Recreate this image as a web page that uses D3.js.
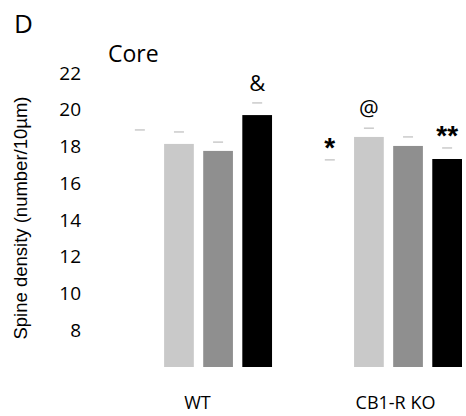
<!DOCTYPE html>
<html>
<head>
<meta charset="utf-8">
<script src="https://cdn.jsdelivr.net/npm/d3@7"></script>
<style>
  body { margin: 0; background: #fff; }
  text { font-family: "Open Sans", sans-serif; fill: #000; }
</style>
</head>
<body>
<svg id="chart" width="466" height="416"></svg>
<script>
var groups = ['WT', 'CB1-R KO'];
var series = ['a', 'b', 'c', 'd'];
var colors = ['#ffffff', '#c9c9c9', '#8f8f8f', '#000000'];
var wtValues = [18.4, 18.14, 17.76, 19.71];
var wtErrors = [0.5, 0.65, 0.48, 0.66];
var koValues = [16.8, 18.52, 18.03, 17.32];
var koErrors = [0.47, 0.48, 0.49, 0.6];
var wtMarks = ['', '', '', '&'];
var koMarks = ['*', '@', '', '**'];
var yTicks = [8, 10, 12, 14, 16, 18, 20, 22];

var data = [];
[[wtValues, wtErrors, wtMarks], [koValues, koErrors, koMarks]].forEach(function(g, gi) {
    series.forEach(function(s, si) {
        data.push({group: groups[gi], key: s, value: g[0][si], err: g[1][si], mark: g[2][si], color: colors[si]});
    });
});

var svg = d3.select("#chart");

// scales
var x0 = d3.scaleBand().domain(groups).range([125, 462]).paddingInner(0.226);
var x1 = d3.scaleBand().domain(series).range([0, x0.bandwidth()]).paddingInner(0.24);
var y = d3.scaleLinear().domain([6, 22]).range([367, 73]);

// y tick labels only, no axis line
var yAxis = d3.axisLeft(y).tickValues(yTicks).tickSize(0).tickPadding(0);
var ya = svg.append("g")
    .attr("transform", "translate(81,0)")
    .call(yAxis);
ya.select(".domain").remove();
ya.selectAll("text")
    .style("font-family", "'Open Sans', sans-serif")
    .style("font-size", "19px")
    .attr("fill", "#000");

// bars
svg.selectAll("rect.bar")
    .data(data)
    .enter()
    .append("rect")
        .attr("class", "bar")
        .attr("x", function(d) { return x0(d.group) + x1(d.key) })
        .attr("y", function(d) { return y(d.value) })
        .attr("width", x1.bandwidth())
        .attr("height", function(d) { return y(6) - y(d.value) })
        .attr("fill", function(d) { return d.color });

// error caps
svg.selectAll("line.cap")
    .data(data)
    .enter()
    .append("line")
        .attr("class", "cap")
        .attr("x1", function(d) { return x0(d.group) + x1(d.key) + x1.bandwidth() / 2 - 5 })
        .attr("x2", function(d) { return x0(d.group) + x1(d.key) + x1.bandwidth() / 2 + 5 })
        .attr("y1", function(d) { return y(d.value + d.err) })
        .attr("y2", function(d) { return y(d.value + d.err) })
        .attr("stroke", "#b0b0b0")
        .attr("stroke-width", 1);

// significance marks
function isStar(d) { return d.mark.indexOf('*') >= 0 }
svg.selectAll("text.mark")
    .data(data.filter(function(d) { return d.mark }))
    .enter()
    .append("text")
        .attr("class", "mark")
        .attr("x", function(d) { return x0(d.group) + x1(d.key) + x1.bandwidth() / 2 })
        .attr("y", function(d) { return y(d.value + d.err) - (isStar(d) ? 3 : 12) })
        .attr("text-anchor", "middle")
        .style("font-size", function(d) { return isStar(d) ? "28px" : "22px" })
        .style("font-family", function(d) { return isStar(d) ? "'Liberation Sans', sans-serif" : "'Open Sans', sans-serif" })
        .style("font-weight", function(d) { return isStar(d) ? "bold" : "normal" })
        .text(function(d) { return d.mark });

// group labels
svg.selectAll("text.group")
    .data(groups)
    .enter()
    .append("text")
        .attr("class", "group")
        .attr("x", function(d, i) { return x0(d) + x0.bandwidth() / 2 + (i ? 7 : -1) })
        .attr("y", 409)
        .attr("text-anchor", "middle")
        .style("font-size", "18px")
        .text(function(d) { return d });

// titles
svg.append("text").attr("x", 14).attr("y", 33).style("font-size", "26px").text("D");
svg.append("text").attr("x", 108).attr("y", 62).style("font-size", "23px").text("Core");

// y label
svg.append("text")
    .attr("transform", "translate(27,218) rotate(-90)")
    .attr("text-anchor", "middle")
    .style("font-family", "'Liberation Sans', Arial, sans-serif")
    .style("font-size", "18.5px")
    .text("Spine density (number/10µm)");
</script>
</body>
</html>
